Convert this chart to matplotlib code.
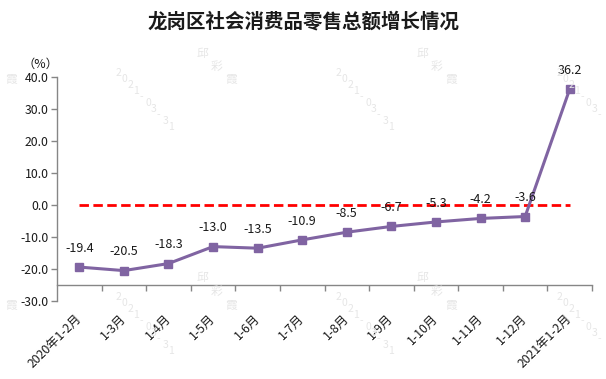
import matplotlib
matplotlib.use("Agg")
import matplotlib.pyplot as plt
from matplotlib.ticker import FixedLocator, FuncFormatter

plt.rcParams['font.family'] = ['Noto Sans CJK SC', 'DejaVu Sans']

categories = ["2020年1-2月", "1-3月", "1-4月", "1-5月", "1-6月", "1-7月", "1-8月",
              "1-9月", "1-10月", "1-11月", "1-12月", "2021年1-2月"]
growth = [-19.4, -20.5, -18.3, -13.0, -13.5, -10.9, -8.5, -6.7, -5.3, -4.2, -3.6, 36.2]
baseline = [0.0] * len(categories)
y_ticks = [-30, -20, -10, 0, 10, 20, 30, 40]

W, H = 606, 379
fig = plt.figure(figsize=(W / 100, H / 100), dpi=100)
ax = fig.add_axes([57 / W, 1 - 301 / H, 535 / W, 224 / H])

axis_color = "#868686"
n = len(categories)
xs = list(range(n))

ax.plot(xs, baseline, color="#FF0000", lw=2.0, dashes=(3.4, 1.6), zorder=2)
ax.plot(xs, growth, color="#8064A2", lw=2.2, marker="s", markersize=5.2,
        markerfacecolor="#8064A2", markeredgecolor="#8064A2", zorder=3)

for x, v in zip(xs, growth):
    ax.annotate(f"{v:.1f}", (x, v), xytext=(0, 13.5), textcoords="offset points",
                ha="center", va="center", fontsize=9, color="#1a1a1a", zorder=4)

ax.set_xlim(-0.5, n - 0.5)
ax.set_ylim(-30, 40)

for s in ["top", "right"]:
    ax.spines[s].set_visible(False)
ax.spines["left"].set_color(axis_color)
ax.spines["bottom"].set_color(axis_color)
ax.spines["left"].set_linewidth(1.0)
ax.spines["bottom"].set_linewidth(1.0)
ax.spines["bottom"].set_position(("data", -25))

ax.yaxis.set_major_locator(FixedLocator(y_ticks))
ax.yaxis.set_major_formatter(FuncFormatter(lambda v, p: f"{v:.1f}"))
ax.tick_params(axis="y", direction="out", length=4, width=1, color=axis_color,
               labelsize=8.8, labelcolor="#1a1a1a", pad=2)

ax.xaxis.set_major_locator(FixedLocator(xs))
ax.set_xticklabels(categories)
ax.xaxis.set_minor_locator(FixedLocator([i + 0.5 for i in range(n)]))
ax.tick_params(axis="x", which="minor", direction="out", length=4, width=1, color=axis_color)
ax.tick_params(axis="x", which="major", length=0, pad=23, labelsize=8.8, labelcolor="#1a1a1a")
for lab in ax.get_xticklabels():
    lab.set_rotation(45)
    lab.set_ha("right")
    lab.set_va("center")
    lab.set_rotation_mode("anchor")

fig.text(304 / W, 1 - 22 / H, "龙岗区社会消费品零售总额增长情况", ha="center", va="center",
         fontsize=14, fontweight="bold", color="#1a1a1a")
fig.text(40 / W, 1 - 64 / H, "（%）", ha="center", va="center", fontsize=8.8, color="#1a1a1a")

# faint watermarks
wm_color = "#e6e6e6"
name_chars = ["邱", "彩", "霞"]
date_chars = list("2021-03-31")
for ox in [-23, 197, 417]:
    for oy in [53, 278]:
        for k, ch in enumerate(name_chars):
            px = ox + 14 * k
            if px < 2:
                continue
            fig.text(px / W, 1 - (oy + 13.5 * k) / H, ch, ha="left", va="center",
                     fontsize=8.5, color=wm_color, zorder=0)
for ox in [116, 336, 557]:
    for oy in [73, 297]:
        for k, ch in enumerate(date_chars):
            px = ox + 5.8 * k
            if px > W - 6:
                continue
            fig.text(px / W, 1 - (oy + 6 * k) / H, ch, ha="left", va="center",
                     fontsize=7.5, color=wm_color, zorder=0)

fig.savefig("out.png", dpi=100)
